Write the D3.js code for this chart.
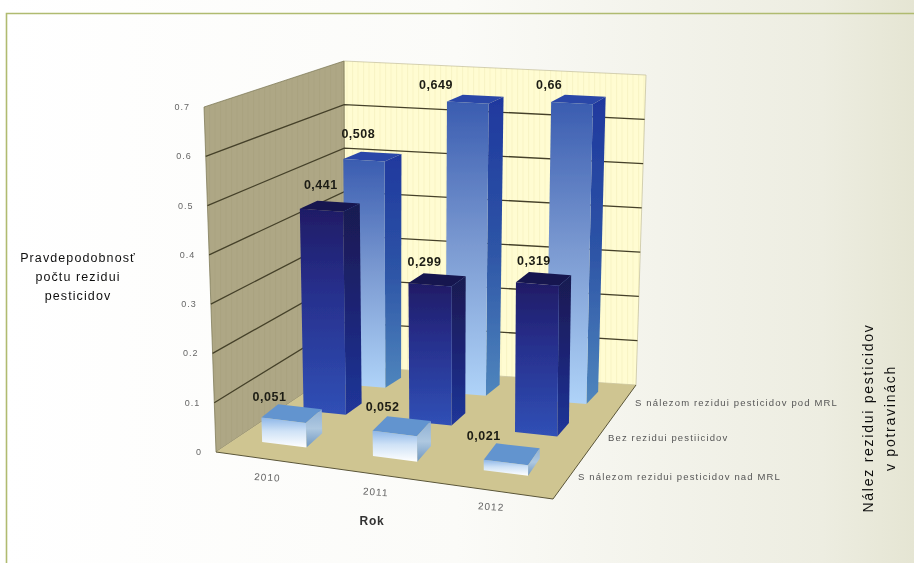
<!DOCTYPE html>
<html><head><meta charset="utf-8">
<script src="https://cdn.jsdelivr.net/npm/d3@7/dist/d3.min.js"></script>
<style>html,body{margin:0;padding:0;background:#fff}svg{display:block}text{font-family:"Liberation Sans",Arial,sans-serif}</style>
</head><body><svg id="c" width="914" height="563"></svg>
<script>
const years = ["2010","2011","2012"];
const seriesNames = ["S nálezom rezidui pesticidov nad MRL","Bez rezidui pestiicidov","S nálezom rezidui pesticidov pod MRL"];
const nadMRL = [0.051,0.052,0.021];
const bezRezidui = [0.441,0.299,0.319];
const podMRL = [0.508,0.649,0.66];
const valueLabels = [["0,051","0,052","0,021"],["0,441","0,299","0,319"],["0,508","0,649","0,66"]];
const yTicks = [0,0.1,0.2,0.3,0.4,0.5,0.6,0.7];
const yTickLabels = ["0","0.1","0.2","0.3","0.4","0.5","0.6","0.7"];

const series = [nadMRL,bezRezidui,podMRL];
const W=914,H=563;
const svg=d3.select("#c");
const defs=svg.append("defs");

function grad(id,stops,x2=0,y2=1){
  const g=defs.append("linearGradient").attr("id",id).attr("x1",0).attr("y1",0).attr("x2",x2).attr("y2",y2);
  stops.forEach(s=>g.append("stop").attr("offset",s[0]).attr("stop-color",s[1]));
}
grad("bg",[[0,"#ffffff"],[0.5,"#fbfbf8"],[0.72,"#f3f3eb"],[0.9,"#ededE1"],[1,"#e5e5d3"]],1,0);
const styles=[
 {front:"f0",side:"s0",top:"#6294cf"},
 {front:"f1",side:"s1",top:"#16164f"},
 {front:"f2",side:"s2",top:"#2b47a8"}];
grad("f0",[[0,"#8db6e8"],[0.45,"#cfe2f6"],[1,"#ffffff"]]);
grad("s0",[[0,"#8fb0d4"],[0.5,"#aec8e0"],[1,"#6f97c0"]]);
grad("f1",[[0,"#1f1c66"],[0.4,"#272f8c"],[1,"#3050b6"]]);
grad("s1",[[0,"#191a50"],[0.5,"#1c2474"],[1,"#20369a"]]);
grad("f2",[[0,"#3a5cb0"],[0.5,"#7c9bd2"],[1,"#afd3f8"]]);
grad("s2",[[0,"#1f389e"],[0.5,"#2d54a6"],[1,"#4f86bd"]]);
function stripes(id,base,line){
  const p=defs.append("pattern").attr("id",id).attr("patternUnits","userSpaceOnUse").attr("width",5.5).attr("height",10);
  p.append("rect").attr("width",5.5).attr("height",10).attr("fill",base);
  p.append("rect").attr("width",1).attr("height",10).attr("fill",line);
}
stripes("backWall","#fffcd2","#f8f4c4");
stripes("leftWall","#aea785","#aaa380");
defs.append("filter").attr("id","soft").append("feGaussianBlur").attr("stdDeviation",0.55);

// Scales: data to normalised box coordinates
const xS=d3.scaleLinear().domain([0,years.length]).range([0,1]);
const zS=d3.scaleLinear().domain([0,series.length]).range([0,1]);
const yS=d3.scaleLinear().domain([0,0.7]).range([0,1]);
const depthY=d3.scalePow().exponent(0.78).domain([0,1]).range([0,1]);

// box corners on the page: [z][x][v]
const C=[[[[216,452],[204,107]],[[553,499],[554,128]]],
         [[[345,366],[344,61]],[[636,385],[646,75]]]];
const L=(a,b,t)=>a+(b-a)*t;
function P(x,v,z){
  const f=(i,zz)=>L(L(L(C[0][0][0][i],C[0][0][1][i],v),L(C[0][1][0][i],C[0][1][1][i],v),x),
                    L(L(C[1][0][0][i],C[1][0][1][i],v),L(C[1][1][0][i],C[1][1][1][i],v),x),zz);
  return [f(0,z),f(1,L(depthY(z),z,v))];
}
const lineGen=d3.line();
const poly=pts=>lineGen(pts)+"Z";

svg.append("rect").attr("width",W).attr("height",H).attr("fill","url(#bg)");
svg.append("path").attr("d","M6.5,563V13.5H914").attr("fill","none").attr("stroke","#b0bb70").attr("stroke-width",1.6);

const g=svg.append("g").attr("filter","url(#soft)");
const vTop=yS(0.7);
g.append("path").attr("d",poly([P(0,0,1),P(0,vTop,1),P(1,vTop,1),P(1,0,1)])).attr("fill","url(#backWall)").attr("stroke","#b9b48e").attr("stroke-width",.6);
g.append("path").attr("d",poly([P(0,0,0),P(0,vTop,0),P(0,vTop,1),P(0,0,1)])).attr("fill","url(#leftWall)").attr("stroke","#77724f").attr("stroke-width",.7);
g.append("path").attr("d",poly([P(0,0,0),P(1,0,0),P(1,0,1),P(0,0,1)])).attr("fill","#cfc591");

yTicks.filter(v=>v>0&&v<0.7).forEach(v=>{
  g.append("path").attr("d",lineGen([P(0,yS(v),0),P(0,yS(v),1),P(1,yS(v),1)])).attr("fill","none").attr("stroke","#454129").attr("stroke-width",1.3);
});
g.append("path").attr("d",lineGen([P(0,0,0),P(1,0,0),P(1,0,1)])).attr("fill","none").attr("stroke","#5a5538").attr("stroke-width",1);

// Bars, back row first
const pad=0.3, wid=0.4;
d3.range(series.length-1,-1,-1).forEach(s=>{
  years.forEach((yr,i)=>{
    const x0=xS(i+pad),x1=xS(i+pad+wid),z0=zS(s+pad),z1=zS(s+pad+wid),v=yS(series[s][i]);
    const st=styles[s];
    g.append("path").attr("d",poly([P(x0,v,z0),P(x1,v,z0),P(x1,v,z1),P(x0,v,z1)])).attr("fill",st.top);
    g.append("path").attr("d",poly([P(x1,v,z0),P(x1,v,z1),P(x1,0,z1),P(x1,0,z0)])).attr("fill","url(#"+st.side+")");
    g.append("path").attr("d",poly([P(x0,v,z0),P(x1,v,z0),P(x1,0,z0),P(x0,0,z0)])).attr("fill","url(#"+st.front+")");
  });
});

// Text
const t=svg.append("g").attr("filter","url(#soft)");
const labelOffsets=[[[8,-17],[10,-20],[0,-20]],[[21,-20],[16,-17],[18,-17]],[[15,-21],[-11,-13],[-2,-13]]];
series.forEach((vals,s)=>vals.forEach((val,i)=>{
  const p=P(xS(i+pad),yS(val),zS(s+pad)),o=labelOffsets[s][i];
  t.append("text").attr("x",p[0]+o[0]).attr("y",p[1]+o[1]).attr("text-anchor","middle")
   .attr("font-size",12.5).attr("font-weight","bold").attr("letter-spacing",.5).attr("fill","#1c1c14").text(valueLabels[s][i]);
}));
yTicks.forEach((v,i)=>{
  const p=P(0,yS(v),0);
  t.append("text").attr("x",p[0]-14).attr("y",p[1]+3).attr("text-anchor","end")
   .attr("font-size",9).attr("letter-spacing",1).attr("fill","#666").text(yTickLabels[i]);
});
const yearShift=[[-5,21],[-9,20],[-6,19]];
years.forEach((yr,i)=>{
  const p=P(xS(i+0.5),0,0);
  t.append("text").attr("transform",`translate(${p[0]+yearShift[i][0]},${p[1]+yearShift[i][1]}) rotate(4)`).attr("text-anchor","middle")
   .attr("font-size",10).attr("letter-spacing",1).attr("fill","#666").text(yr);
});
const seriesLabelX=[578,608,635], seriesLabelY=[480,441,406];
seriesNames.forEach((n,s)=>{
  t.append("text").attr("x",seriesLabelX[s]).attr("y",seriesLabelY[s]).attr("font-size",9.5).attr("letter-spacing",1.15).attr("fill","#555").text(n);
});
const yTitle=["Pravdepodobnosť","počtu rezidui","pesticidov"];
yTitle.forEach((s,i)=>t.append("text").attr("x",78).attr("y",[262,281,300][i]).attr("text-anchor","middle")
  .attr("font-size",12.5).attr("letter-spacing",1.1).attr("fill","#111").text(s));
t.append("text").attr("x",372).attr("y",525).attr("text-anchor","middle").attr("font-size",12).attr("font-weight","bold").attr("letter-spacing",.8).attr("fill","#333").text("Rok");
["Nález rezidui pesticidov","v potravinách"].forEach((s,i)=>t.append("text")
  .attr("transform",`translate(${[873,895][i]},418) rotate(-90)`).attr("text-anchor","middle")
  .attr("font-size",14).attr("letter-spacing",1.75).attr("fill","#111").text(s));
</script></body></html>
